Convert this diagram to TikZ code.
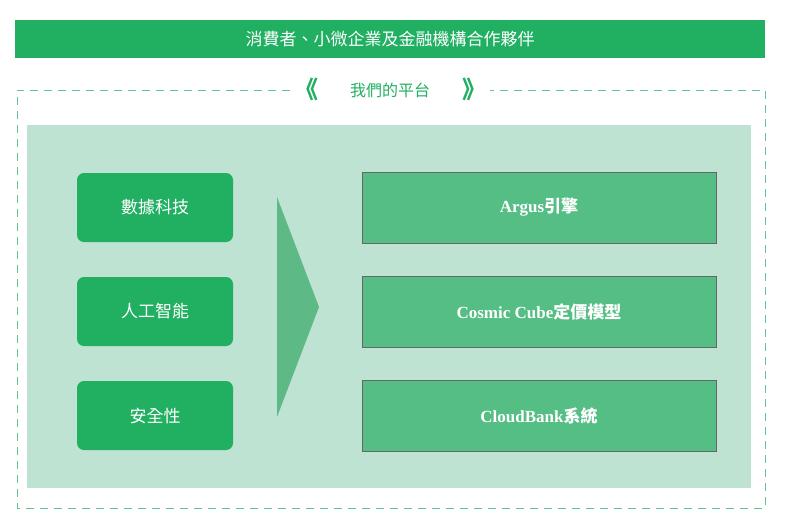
\documentclass[tikz,border=0pt]{standalone}
\usepackage{fontspec}
\newfontfamily\cjk{Noto Sans CJK TC}
\newfontfamily\lat{Liberation Serif}
\definecolor{gr}{HTML}{21AF62}
\definecolor{lt}{HTML}{BEE3D2}
\definecolor{mid}{HTML}{55BE84}
\definecolor{tri}{HTML}{5DB985}
\begin{document}
\begin{tikzpicture}[x=1pt,y=-1pt,
 lbox/.style={fill=gr,rounded corners=7pt,minimum width=156pt,minimum height=69pt,text=white,font=\cjk\fontsize{17}{20}\selectfont},
 rbox/.style={fill=mid,draw=black!60,line width=0.8pt,minimum width=354pt,minimum height=71pt,text=white,font=\fontsize{17}{20}\selectfont}]
\useasboundingbox (0,0) rectangle (786,528);
\node[fill=gr,minimum width=750pt,minimum height=38pt,inner sep=0,text=white,font=\cjk\fontsize{17}{20}\selectfont] (hdr) at (390,39) {消費者、小微企業及金融機構合作夥伴};
\draw[gr!70,dashed,dash pattern=on 8pt off 6pt,line width=0.8pt] (290,90) -- (17,90) -- (17,508) -- (765,508) -- (765,90) -- (490,90);
\node[text=gr,font=\cjk\fontsize{16}{20}\selectfont] (ttl) at (390,90) {我們的平台};
\node[text=gr,font=\cjk\bfseries\fontsize{24}{24}\selectfont] (cl) at (306,89) {《};
\node[text=gr,font=\cjk\bfseries\fontsize{24}{24}\selectfont] (cr) at (474,89) {》};
\fill[lt] (27,125) rectangle (751,488);
\node[lbox] (a) at (155,207.5) {數據科技};
\node[lbox] (b) at (155,311.5) {人工智能};
\node[lbox] (c) at (155,415.5) {安全性};
\fill[tri] (277,197) -- (319,307) -- (277,417) -- cycle;
\node[rbox] (r1) at (539,207.5) {\lat\bfseries Argus\cjk 引擎};
\node[rbox] (r2) at (539,311.5) {\lat\bfseries Cosmic Cube\cjk 定價模型};
\node[rbox] (r3) at (539,415.5) {\lat\bfseries CloudBank\cjk 系統};
\end{tikzpicture}
\end{document}
